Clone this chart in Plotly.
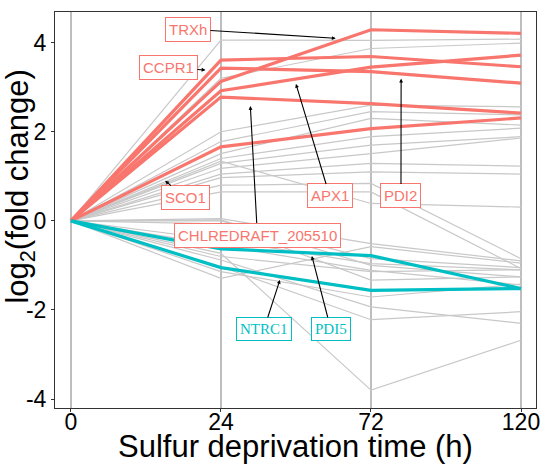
import plotly.graph_objects as go

# ---------------- data ----------------
times = [0, 24, 72, 120]
time_labels = ["0", "24", "72", "120"]
y_ticks = [-4, -2, 0, 2, 4]
y_tick_labels = ["-4", "-2", "0", "2", "4"]

up_genes = ["TRXh", "CCPR1", "PDI2", "APX1", "CHLREDRAFT_205510", "SCO1"]
up_24 = [3.13, 3.61, 3.43, 2.92, 2.78, 1.66]
up_72 = [4.29, 3.69, 3.35, 3.45, 2.63, 2.07]
up_120 = [4.21, 3.46, 3.09, 3.72, 2.42, 2.31]

down_genes = ["NTRC1", "PDI5"]
down_24 = [-1.05, -0.63]
down_72 = [-1.56, -0.78]
down_120 = [-1.52, -1.52]

other_24 = [4.06, 3.20, 2.00, 1.78, 1.51, 1.40, 1.29, 1.18, 1.05, 0.97, 1.34, 0.80,
            0.65, 0.05, 0.00, -0.07, -0.43, -0.55, -0.73, -0.88, -1.03, -1.14, -1.29,
            0.02, -0.80]
other_72 = [4.05, 3.87, 2.60, 2.45, 2.30, 1.89, 1.70, 1.51, 1.29, 1.10, 0.39, 0.84,
            0.65, -0.51, -0.85, -1.33, -0.96, -1.11, -3.80, -1.93, -2.22, -1.71, -0.58,
            -1.00, -1.14]
other_120 = [4.08, 3.99, 2.56, 2.38, 2.15, 2.08, 1.89, 1.86, 1.23, 1.05, 0.31, -0.85,
             -1.07, -0.90, -1.05, -1.26, -1.10, -1.44, -2.68, -2.30, -2.04, -1.42, -0.95,
             -1.26, -1.10]

# ---------------- style ----------------
RED = "#F8766D"
CYAN = "#00BFC4"
GREY = "#C8C8C8"
SANS = "Liberation Sans, Arial, sans-serif"
SERIF = "Liberation Serif, Times New Roman, serif"
xpos = list(range(len(times)))

# label placement (axis units): gene -> (tip_x, tip_y, label_x, label_y)
label_pos = {
    "TRXh": (1.765, 4.098, 0.780, 4.307),
    "CCPR1": (0.897, 3.387, 0.650, 3.438),
    "SCO1": (0.628, 0.901, 0.762, 0.520),
    "CHLREDRAFT_205510": (1.196, 2.579, 1.243, -0.319),
    "APX1": (1.500, 3.073, 1.725, 0.558),
    "PDI2": (2.201, 3.191, 2.200, 0.558),
    "NTRC1": (1.393, -1.328, 1.287, -2.428),
    "PDI5": (1.606, -0.789, 1.732, -2.428),
}

fig = go.Figure()

for a, b, c in zip(other_24, other_72, other_120):
    fig.add_trace(go.Scatter(x=xpos, y=[0, a, b, c], mode="lines",
                             line=dict(color=GREY, width=1.2), hoverinfo="skip",
                             showlegend=False))

for g, a, b, c in zip(up_genes, up_24, up_72, up_120):
    fig.add_trace(go.Scatter(x=xpos, y=[0, a, b, c], mode="lines", name=g,
                             line=dict(color=RED, width=3.2), showlegend=False))

for g, a, b, c in zip(down_genes, down_24, down_72, down_120):
    fig.add_trace(go.Scatter(x=xpos, y=[0, a, b, c], mode="lines", name=g,
                             line=dict(color=CYAN, width=3.2), showlegend=False))

annotations = []
for g in up_genes + down_genes:
    tx, ty, lx, ly = label_pos[g]
    is_up = g in up_genes
    col = RED if is_up else CYAN
    annotations.append(dict(
        x=tx, y=ty, ax=lx, ay=ly, xref="x", yref="y", axref="x", ayref="y",
        text=g, showarrow=True, arrowhead=2, arrowsize=0.7, arrowwidth=1.1,
        arrowcolor="black", standoff=0, startstandoff=0,
        font=dict(family=SANS if is_up else SERIF, size=15, color=col),
        bgcolor="white", bordercolor=col, borderwidth=1, borderpad=3,
    ))

# axis titles
annotations.append(dict(
    text="Sulfur deprivation time (h)", xref="paper", yref="paper",
    x=0.5, y=-0.1435, xanchor="center", yanchor="bottom", showarrow=False,
    font=dict(family=SANS, size=31, color="black"), borderpad=0,
))
annotations.append(dict(
    text="log<sub>2</sub>(fold change)", xref="paper", yref="paper",
    x=-0.072, y=0.56, xanchor="center", yanchor="middle", showarrow=False,
    textangle=-90, font=dict(family=SANS, size=31, color="black"),
))

fig.update_layout(
    width=541, height=465,
    margin=dict(l=55, r=1, t=12, b=57),
    plot_bgcolor="white", paper_bgcolor="white",
    font=dict(family=SANS, color="black"),
    annotations=annotations,
)

fig.update_xaxes(
    range=[-0.106, 3.10], tickmode="array", tickvals=xpos, ticktext=time_labels,
    showgrid=True, gridcolor="#BEBEBE", gridwidth=1.5, zeroline=False,
    showline=True, linecolor="#333333", linewidth=1, mirror=True,
    ticks="outside", ticklen=3, tickcolor="#333333",
    tickfont=dict(size=23, color="black"), ticklabeloverflow="allow",
    ticklabelstandoff=-10,
)
fig.update_yaxes(
    range=[-4.202, 4.689], tickmode="array", tickvals=y_ticks, ticktext=y_tick_labels,
    showgrid=False, zeroline=False,
    showline=True, linecolor="#333333", linewidth=1, mirror=True,
    ticks="outside", ticklen=3, tickcolor="#333333",
    tickfont=dict(size=23, color="black"),
)

fig.write_html("out.html")
